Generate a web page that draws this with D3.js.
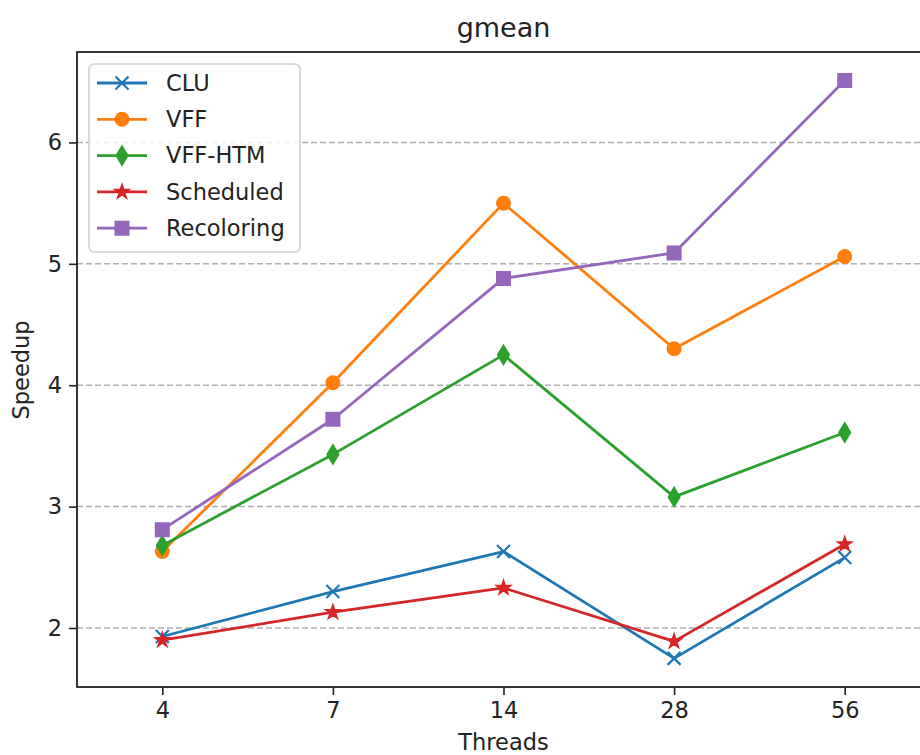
<!DOCTYPE html>
<html><head><meta charset="utf-8">
<script src="https://cdn.jsdelivr.net/npm/d3@7"></script>
<style>body{margin:0;background:#fff;} svg{display:block;font-family:"DejaVu Sans",sans-serif;}</style>
</head><body>
<svg id="c" width="920" height="755"></svg>
<script>
const categories = ["4","7","14","28","56"];
const seriesNames = ["CLU","VFF","VFF-HTM","Scheduled","Recoloring"];
const clu = [1.93,2.30,2.63,1.75,2.58];
const vff = [2.63,4.02,5.50,4.30,5.06];
const vffHtm = [2.68,3.43,4.25,3.08,3.61];
const scheduled = [1.90,2.13,2.33,1.89,2.69];
const recoloring = [2.81,3.72,4.88,5.09,6.51];
const yTicks = [2,3,4,5,6];
const colors = ["#1f77b4","#ff7f0e","#2ca02c","#d62728","#9467bd"];
const markers = ["x","circle","diamond","star","square"];
const allSeries = [clu,vff,vffHtm,scheduled,recoloring];

const svg = d3.select("#c");
const L=77, R=930, T=52, B=687;
const FS = 22.5;
const x = d3.scaleLinear().domain([-0.5,4.5]).range([L,R]);
const y = d3.scaleLinear().domain([1.514,6.745]).range([B,T]);

// gridlines
svg.append("g").selectAll("line").data(yTicks).join("line")
  .attr("x1",L).attr("x2",R).attr("y1",d=>y(d)).attr("y2",d=>y(d))
  .attr("stroke","#b0b0b0").attr("stroke-width",1.5).attr("stroke-dasharray","6,3");

// axes
const xa = svg.append("g").attr("transform",`translate(0,${B})`)
  .call(d3.axisBottom(x).tickValues([0,1,2,3,4]).tickFormat(i=>categories[i]).tickSize(8).tickPadding(7));
const ya = svg.append("g").attr("transform",`translate(${L},0)`)
  .call(d3.axisLeft(y).tickValues(yTicks).tickFormat(d3.format("d")).tickSize(8).tickPadding(7));
[xa,ya].forEach(a=>{a.select(".domain").remove();a.selectAll("text").attr("font-size",FS).attr("fill","#222").attr("font-family","DejaVu Sans");a.selectAll("line").attr("stroke","#222").attr("stroke-width",1.6);});
svg.append("rect").attr("x",L).attr("y",T).attr("width",R-L).attr("height",B-T)
  .attr("fill","none").attr("stroke","#222").attr("stroke-width",1.8);

function starPath(ro){
  const ri = ro*0.381966; let p="";
  for(let i=0;i<10;i++){const r=i%2?ri:ro; const a=-Math.PI/2+i*Math.PI/5;
    p+=(i?"L":"M")+(r*Math.cos(a)).toFixed(2)+","+(r*Math.sin(a)).toFixed(2);}
  return p+"Z";
}
function marker(g, type, color, cx, cy, ms){
  const h=ms/2;
  let d;
  if(type==="x"){
    g.append("path").attr("d",`M${cx-h},${cy-h}L${cx+h},${cy+h}M${cx-h},${cy+h}L${cx+h},${cy-h}`)
      .attr("stroke",color).attr("stroke-width",2.2).attr("fill","none");
    return;
  }
  if(type==="circle") d=d3.symbol().type(d3.symbolCircle).size(Math.PI*h*h)();
  if(type==="square") d=`M${-h},${-h}H${h}V${h}H${-h}Z`;
  if(type==="diamond"){const hy=ms*0.707, hx=hy*0.6; d=`M0,${-hy}L${hx},0L0,${hy}L${-hx},0Z`;}
  if(type==="star") d=starPath(h*1.05);
  g.append("path").attr("d",d).attr("transform",`translate(${cx},${cy})`)
    .attr("fill",color).attr("stroke",color).attr("stroke-width",2).attr("stroke-linejoin","miter");
}

const line = d3.line().x((d,i)=>x(i)).y(d=>y(d));
allSeries.forEach((vals,k)=>{
  const g = svg.append("g");
  g.append("path").datum(vals).attr("d",line).attr("fill","none").attr("stroke",colors[k]).attr("stroke-width",2.8).attr("stroke-linejoin","round");
  vals.forEach((v,i)=>marker(g,markers[k],colors[k],x(i),y(v),13));
});

// legend
const lg = svg.append("g");
lg.append("rect").attr("x",89).attr("y",64).attr("width",211).attr("height",188).attr("rx",5)
  .attr("fill","#fff").attr("fill-opacity",0.8).attr("stroke","#d0d0d0").attr("stroke-width",1.6);
seriesNames.forEach((n,k)=>{
  const yy = 83 + k*36.3;
  lg.append("line").attr("x1",97).attr("x2",147).attr("y1",yy).attr("y2",yy).attr("stroke",colors[k]).attr("stroke-width",2.8);
  marker(lg,markers[k],colors[k],122,yy,13);
  lg.append("text").attr("x",166).attr("y",yy).attr("dy","0.35em").attr("font-size",FS).attr("fill","#222").text(n);
});

// labels
svg.append("text").attr("x",(L+R)/2).attr("y",37).attr("text-anchor","middle").attr("font-size",27).attr("fill","#222").text("gmean");
svg.append("text").attr("x",(L+R)/2).attr("y",750).attr("text-anchor","middle").attr("font-size",FS).attr("fill","#222").text("Threads");
svg.append("text").attr("transform","translate(29,370) rotate(-90)").attr("text-anchor","middle").attr("font-size",FS).attr("fill","#222").text("Speedup");
</script>
</body></html>
